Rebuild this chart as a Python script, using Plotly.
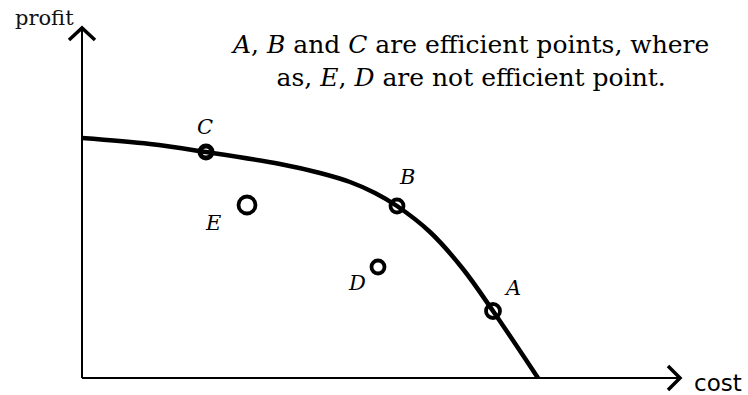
import plotly.graph_objects as go

# Efficient frontier (cost vs profit), abstract units
frontier_cost = [0, 68, 124, 198, 238, 268, 293, 315, 348, 381, 411, 456]
frontier_profit = [240, 234, 226, 214, 205, 196, 185, 172, 146, 109, 67, 0]

point_names = ["A", "B", "C", "D", "E"]
point_cost = [411, 315, 124, 296, 165]
point_profit = [67, 172, 226, 111, 173]

# label offsets in pixels (xshift, yshift)
label_shift = {"A": (19, 23), "B": (10, 29), "C": (-1, 25), "D": (-21, -16), "E": (-34, -18)}

X_AXIS_LEN = 598
Y_AXIS_LEN = 350
ARROW = 12

fig = go.Figure()

# axes
fig.add_trace(go.Scatter(x=[0, 0], y=[0, Y_AXIS_LEN], mode="lines",
                         line=dict(color="black", width=2), hoverinfo="skip"))
fig.add_trace(go.Scatter(x=[0, X_AXIS_LEN], y=[0, 0], mode="lines",
                         line=dict(color="black", width=2), hoverinfo="skip"))
# arrow heads (open chevrons)
fig.add_trace(go.Scatter(x=[-ARROW - 1, 0, ARROW + 1], y=[Y_AXIS_LEN - ARROW, Y_AXIS_LEN, Y_AXIS_LEN - ARROW],
                         mode="lines", line=dict(color="black", width=3.5), hoverinfo="skip"))
fig.add_trace(go.Scatter(x=[X_AXIS_LEN - ARROW, X_AXIS_LEN, X_AXIS_LEN - ARROW], y=[ARROW, 0, -ARROW],
                         mode="lines", line=dict(color="black", width=3.5), hoverinfo="skip"))

# frontier curve
fig.add_trace(go.Scatter(x=frontier_cost, y=frontier_profit, mode="lines",
                         line=dict(color="black", width=4.5, shape="spline", smoothing=1.0),
                         hoverinfo="skip"))

# points
sizes = {"A": 14, "B": 13, "C": 12, "D": 13, "E": 17}
for n, c, p in zip(point_names, point_cost, point_profit):
    fig.add_trace(go.Scatter(x=[c], y=[p], mode="markers",
                             marker=dict(symbol="circle-open", size=sizes[n],
                                         line=dict(color="black", width=3.8 if n != "C" else 5),
                                         color="black"),
                             hoverinfo="skip"))
    xs, ys = label_shift[n]
    fig.add_annotation(x=c, y=p, text=f"<i>{n}</i>", showarrow=False,
                       xshift=xs, yshift=ys,
                       font=dict(family="DejaVu Serif", size=21, color="black"))

# axis titles
fig.add_annotation(x=-38, y=360, text="profit", showarrow=False,
                   font=dict(family="DejaVu Serif", size=21, color="#111"))
fig.add_annotation(x=636, y=-5, text="cost", showarrow=False,
                   font=dict(family="DejaVu Sans", size=23, color="black"))

# note
fig.add_annotation(x=388, y=317,
                   text="<i>A</i>, <i>B</i> and <i>C</i> are efficient points, where<br>"
                        "as, <i>E</i>, <i>D</i> are not efficient point.",
                   showarrow=False, align="center",
                   font=dict(family="DejaVu Serif", size=25, color="black"))

fig.update_layout(width=748, height=395, margin=dict(l=0, r=0, t=0, b=0),
                  paper_bgcolor="white", plot_bgcolor="white", showlegend=False)
fig.update_xaxes(range=[-82, 666], visible=False)
fig.update_yaxes(range=[-17, 378], visible=False)

fig.write_html("out.html", config={"displayModeBar": False},
               post_script="document.body.style.margin='0px';")
